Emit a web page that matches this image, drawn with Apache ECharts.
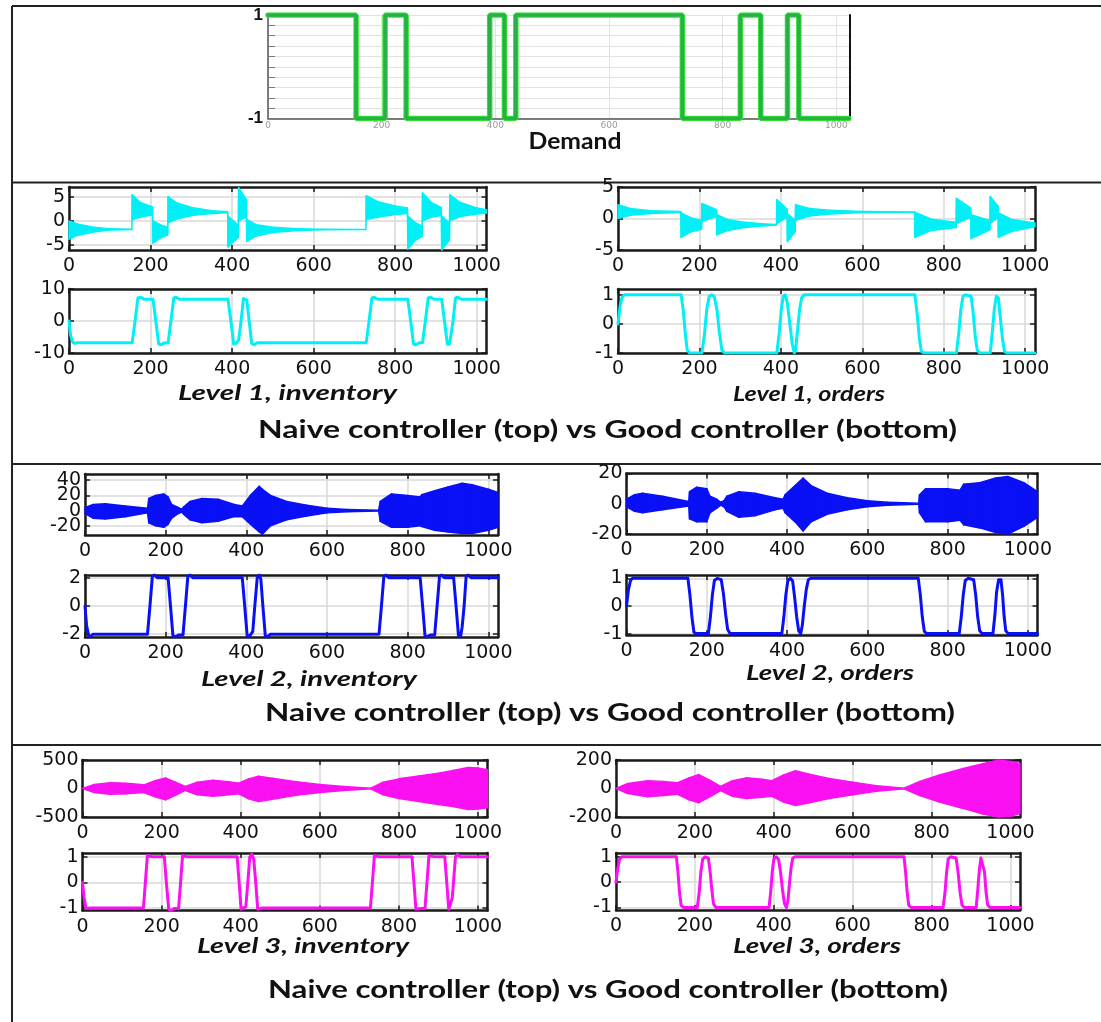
<!DOCTYPE html>
<html><head><meta charset="utf-8">
<script src="https://cdn.jsdelivr.net/npm/echarts@6/dist/echarts.min.js"></script>
<style>html,body{margin:0;padding:0;background:#fff}#c{width:1101px;height:1022px}</style>
</head><body><div id="c"></div>
<script>
// ---------------- DATA ----------------
const X_MAX = 1024;
const xTickValues = [0, 200, 400, 600, 800, 1000];

// Demand (step: value holds until next switch)
const demandSteps = [[0,1],[155,-1],[206,1],[243,-1],[390,1],[416,-1],[436,1],[729,-1],[831,1],[867,-1],[914,1],[934,-1],[1022,-1]];

// Level 1 inventory, naive (oscillation envelope)
const l1InvNaiveX  = [0,20,60,100,154,155,175,205,206,225,242,243,265,300,350,389,390,415,416,435,436,460,500,560,620,728,729,760,800,830,831,850,866,867,890,913,914,933,934,960,1000,1024];
const l1InvNaiveHi = [0,-0.6,-1.3,-1.6,-1.7,5.4,3.8,2.9,0.0,-0.8,-1.3,5.0,3.7,2.8,2.1,1.9,1.0,-0.9,6.9,4.4,0.3,-0.8,-1.3,-1.6,-1.7,-1.75,5.2,3.9,3.1,2.7,1.0,-0.4,-1.0,5.8,3.7,2.8,1.0,-0.4,5.4,3.8,2.7,2.3];
const l1InvNaiveLo = [-3.8,-3.0,-2.3,-1.9,-1.8,0.2,0.8,1.2,-4.6,-3.5,-2.9,-0.4,0.4,1.1,1.5,1.7,-5.4,-3.4,0.0,0.8,-4.2,-3.1,-2.4,-2.0,-1.85,-1.8,0.3,0.8,1.3,1.5,-5.8,-4.0,-3.2,0.0,0.8,1.1,-6.3,-4.0,0.0,0.9,1.4,1.6];

// Level 1 orders, naive
const l1OrdNaiveX  = [0,30,80,154,155,180,205,206,242,243,270,310,360,389,390,415,416,435,436,470,520,600,728,729,770,830,831,866,867,913,914,933,934,970,1024];
const l1OrdNaiveHi = [2.2,1.6,1.25,1.1,0.9,0.1,-0.3,2.4,1.4,0.6,-0.2,-0.6,-0.85,-0.95,3.0,1.5,0.8,-0.3,2.2,1.6,1.3,1.1,1.05,1.0,-0.1,-0.6,3.2,1.7,0.6,-0.3,3.5,2.0,0.9,-0.2,-0.7];
const l1OrdNaiveLo = [0.0,0.5,0.8,0.95,-3.0,-2.1,-1.7,-0.5,0.3,-2.6,-1.9,-1.45,-1.15,-1.05,-0.8,0.2,-3.7,-2.1,-0.3,0.4,0.7,0.95,1.0,-3.0,-1.9,-1.45,-0.8,0.2,-3.2,-1.8,-0.8,0.1,-3.0,-2.0,-1.3];

// Level 2 inventory, naive
const l2InvNaiveX  = [0,20,50,100,155,158,175,195,206,215,228,240,245,260,290,330,370,390,410,432,440,460,500,550,600,650,700,728,732,760,800,831,835,867,900,935,960,1000,1024];
const l2InvNaiveHi = [4,8,9,6,3,16,20,22,18,8,5,2,5,12,16,15,8,6,20,32,28,20,12,7,3,1.5,0.8,0.5,12,22,20,18,21,26,31,36,34,28,24];
const l2InvNaiveLo = [-4,-10,-11,-8,-3,-16,-20,-22,-18,-10,-5,-2,-5,-12,-16,-14,-8,-8,-18,-28,-31,-20,-12,-7,-3,-1.5,-0.8,-0.5,-14,-22,-22,-20,-21,-26,-28,-30,-30,-26,-22];

// Level 2 orders, naive
const l2OrdNaiveX  = [0,20,40,90,155,157,175,200,208,225,235,243,250,280,320,370,390,395,420,440,460,500,550,600,650,728,730,745,800,831,840,880,920,950,990,1024];
const l2OrdNaiveHi = [3,6,7,5,1.5,8,11,10,5,3,1,2,5,8,7,4,3,6,12,17,12,7,4,2,1,0.4,6,10,10,9,13,14,17,18,14,8];
const l2OrdNaiveLo = [-2,-5,-6,-4,-1.5,-10,-12,-12,-6,-3,-1,-2,-5,-9,-8,-4,-3,-6,-12,-18,-12,-7,-4,-2,-1,-0.4,-6,-12,-12,-11,-14,-16,-19,-20,-15,-9];

// Level 3 inventory, naive
const l3InvNaiveX  = [0,30,70,110,155,185,210,235,260,290,330,370,395,420,445,480,540,600,660,729,760,800,850,900,940,975,1000,1024];
const l3InvNaiveHi = [0,70,100,95,65,140,185,110,35,110,145,120,95,170,215,180,120,70,35,5,110,170,220,270,320,370,360,330];
const l3InvNaiveLo = [0,-70,-100,-95,-70,-150,-200,-120,-35,-110,-135,-110,-95,-180,-230,-190,-120,-70,-35,-5,-110,-175,-230,-280,-320,-370,-360,-340];

// Level 3 orders, naive
const l3OrdNaiveX  = [0,30,80,120,155,185,210,240,265,295,330,370,395,425,455,490,540,600,660,730,770,820,880,930,970,1000,1024];
const l3OrdNaiveHi = [0,35,55,50,40,75,98,55,15,55,75,65,55,95,125,100,70,45,20,3,50,95,140,175,200,190,176];
const l3OrdNaiveLo = [0,-35,-58,-50,-40,-80,-100,-55,-15,-55,-70,-62,-55,-95,-120,-100,-70,-45,-20,-3,-50,-95,-140,-180,-200,-195,-176];

// Good controller traces [x, y]
const l1InvGood = [[0,0],[4,-4.5],[9,-6.6],[14,-7.0],[20,-6.8],[155,-6.8],[162,0],[169,7.2],[176,7.4],[184,6.8],[206,6.8],[213,0],[220,-7.2],[226,-7.4],[233,-6.9],[243,-6.9],[250,0],[257,7.2],[263,7.4],[271,6.8],[390,6.8],[397,0],[404,-7.2],[410,-7.0],[416,-6.0],[422,0],[428,7.0],[432,7.6],[436,6.5],[442,0],[448,-7.0],[454,-7.4],[462,-6.8],[729,-6.8],[736,0],[743,7.2],[749,7.4],[757,6.8],[831,6.8],[838,0],[845,-7.2],[851,-7.4],[859,-6.8],[867,-6.8],[874,0],[881,7.2],[887,7.4],[895,6.8],[914,6.8],[921,0],[928,-7.2],[933,-7.3],[936,-5],[942,0],[948,7.2],[954,7.4],[962,6.8],[1024,6.8]];
const l1OrdGood = [[0,0],[5,0.6],[10,0.92],[16,1],[155,1],[160,0.5],[165,-0.3],[170,-0.9],[176,-1],[206,-1],[212,-0.4],[218,0.5],[224,0.95],[230,1.0],[236,0.95],[243,0.5],[249,-0.3],[255,-0.9],[262,-1],[390,-1],[396,-0.3],[401,0.5],[406,0.95],[411,1],[416,0.7],[422,0],[428,-0.7],[433,-1],[436,-0.9],[441,-0.2],[446,0.5],[451,0.9],[457,1],[729,1],[735,0.3],[740,-0.5],[745,-0.95],[751,-1],[831,-1],[837,-0.3],[842,0.5],[847,0.95],[853,1],[867,0.95],[872,0.4],[877,-0.4],[882,-0.9],[888,-1],[914,-1],[919,-0.3],[924,0.5],[929,0.95],[934,0.9],[939,0.2],[944,-0.5],[949,-0.95],[955,-1],[1024,-1]];
const l2InvGood = [[0,0],[4,-1.4],[9,-2.1],[14,-2.15],[20,-2.0],[155,-2.0],[161,0],[167,2.1],[172,2.2],[180,2.0],[206,2.0],[212,0],[218,-2.1],[224,-2.2],[232,-2.05],[243,-2.05],[249,0],[255,2.1],[260,2.2],[268,2.0],[390,2.0],[396,0],[402,-2.1],[408,-2.15],[416,-1.8],[421,0],[427,2.0],[432,2.2],[436,1.9],[441,0],[447,-2.1],[452,-2.2],[460,-2.0],[729,-2.0],[735,0],[741,2.1],[746,2.2],[754,2.0],[831,2.0],[837,0],[843,-2.1],[848,-2.2],[856,-2.05],[867,-2.05],[873,0],[879,2.1],[884,2.2],[892,2.0],[914,2.0],[920,0],[926,-2.1],[931,-2.2],[935,-1.5],[940,0],[945,2.1],[950,2.2],[958,2.0],[1024,2.0]];
const l2OrdGood = [[0,0],[5,0.6],[10,0.92],[15,1],[153,1],[158,0.4],[163,-0.4],[168,-0.95],[174,-1],[204,-1],[209,-0.4],[214,0.4],[219,0.92],[226,1.0],[236,0.95],[241,0.5],[247,-0.3],[252,-0.85],[258,-1],[387,-1],[392,-0.4],[397,0.4],[402,0.92],[408,1],[414,0.9],[419,0.3],[424,-0.4],[429,-0.9],[434,-1],[438,-0.7],[443,0],[448,0.6],[453,0.95],[459,1],[727,1],[732,0.4],[737,-0.4],[742,-0.92],[748,-1],[829,-1],[834,-0.4],[839,0.4],[844,0.92],[851,1],[865,0.95],[870,0.4],[875,-0.4],[880,-0.9],[886,-1],[913,-1],[918,-0.3],[922,0.5],[927,0.95],[933,0.95],[937,0.4],[941,-0.4],[945,-0.9],[951,-1],[1024,-1]];
const l3InvGood = [[0,0],[4,-0.6],[9,-1.02],[14,-1.08],[20,-1],[154,-1],[159,0],[164,1.05],[169,1.1],[177,1],[207,1],[212,0],[218,-1.05],[224,-1.1],[232,-1.02],[243,-1.02],[248,0],[253,1.05],[258,1.1],[266,1],[391,1],[396,0],[401,-1.05],[406,-1.1],[413,-0.95],[418,0],[423,1.0],[428,1.1],[433,0.9],[438,0],[443,-1.05],[448,-1.1],[456,-1],[728,-1],[733,0],[738,1.05],[743,1.1],[751,1],[833,1],[838,0],[843,-1.05],[848,-1.1],[856,-1.02],[866,-1.02],[871,0],[876,1.05],[881,1.1],[889,1],[916,1],[921,0],[926,-1.05],[931,-1.1],[935,-0.6],[939,0.2],[943,1.0],[948,1.1],[956,1],[1024,1]];
const l3OrdGood = [[0,0],[4,0.5],[9,0.9],[15,1],[153,1],[157,0.4],[161,-0.4],[165,-0.92],[171,-1],[206,-1],[211,-0.4],[215,0.4],[220,0.92],[226,1],[234,0.95],[238,0.5],[243,-0.3],[247,-0.85],[253,-1],[388,-1],[392,-0.4],[396,0.4],[400,0.92],[406,1],[412,0.9],[417,0.4],[422,-0.3],[427,-0.85],[432,-1],[436,-0.7],[440,0],[444,0.6],[448,0.95],[454,1],[730,1],[734,0.4],[738,-0.4],[742,-0.92],[748,-1],[829,-1],[834,-0.4],[838,0.4],[842,0.92],[848,1],[862,0.95],[867,0.4],[872,-0.4],[877,-0.9],[883,-1],[913,-1],[917,-0.3],[921,0.5],[925,0.95],[930,0.95],[934,0.4],[938,-0.4],[942,-0.9],[948,-1],[1024,-1]];

// ---------------- BUILD ----------------
const CYAN = '#00f0f6', BLUE = '#0a10f5', MAG = '#fa10f0';
const grids = [], xAxes = [], yAxes = [], series = [];
const plainNum = v => String(v);

function addDemandPanel(rect) {
  const gi = grids.length;
  grids.push({left: rect[0], top: rect[1], width: rect[2], height: rect[3], outerBoundsMode: 'none', show: false});
  xAxes.push({type: 'value', gridIndex: gi, position: 'bottom', min: 0, max: X_MAX,
    axisLine: {show: true, onZero: false, lineStyle: {color: '#555', width: 1.5}},
    axisTick: {show: false, customValues: xTickValues},
    axisLabel: {show: true, hideOverlap: false, showMinLabel: true, showMaxLabel: true, customValues: xTickValues, formatter: plainNum, fontSize: 9, fontFamily: 'DejaVu Sans', color: '#9a9a9a', margin: 3},
    splitLine: {show: true, lineStyle: {color: '#e2e2e2', width: 1}}});
  yAxes.push({type: 'value', gridIndex: gi, position: 'left', min: -1, max: 1, interval: 0.2,
    axisLine: {show: true, onZero: false, lineStyle: {color: '#555', width: 1.5}},
    axisTick: {show: true, inside: true, length: 7, lineStyle: {color: '#777', width: 1}},
    axisLabel: {show: true, hideOverlap: false, showMinLabel: true, showMaxLabel: true, customValues: [-1, 1], formatter: plainNum, fontSize: 17, fontWeight: 'bold', fontFamily: 'Liberation Sans', color: '#111', margin: 5},
    splitLine: {show: true, lineStyle: {color: '#e2e2e2', width: 1}}});
  yAxes.push({type: 'value', gridIndex: gi, position: 'right', min: -1, max: 1,
    axisLine: {show: true, onZero: false, lineStyle: {color: '#111', width: 2}},
    axisTick: {show: false}, axisLabel: {show: false}, splitLine: {show: false}});
  return {x: xAxes.length - 1, y: yAxes.length - 2};
}

// yLabelSets: label values split over stacked label-only axes so close labels never collide
function addPanel(rect, yMin, yMax, yTicks, yLabelSets) {
  const gi = grids.length;
  grids.push({left: rect[0], top: rect[1], width: rect[2], height: rect[3], outerBoundsMode: 'none', show: false});
  const lineStyle = {color: '#1a1a1a', width: 2.5};
  const tickStyle = {color: '#1a1a1a', width: 1.5};
  const font = {fontFamily: 'DejaVu Sans', fontSize: 19, color: '#111', formatter: plainNum,
    hideOverlap: false, showMinLabel: true, showMaxLabel: true};
  const grid = {show: true, lineStyle: {color: '#d9d9d9', width: 1.5}};
  const sets = yLabelSets || [yTicks];
  xAxes.push({type: 'value', gridIndex: gi, position: 'bottom', min: 0, max: X_MAX,
    axisLine: {show: true, onZero: false, lineStyle},
    axisTick: {show: true, inside: true, length: 5, lineStyle: tickStyle, customValues: xTickValues},
    axisLabel: Object.assign({show: true, margin: 7, customValues: xTickValues}, font),
    splitLine: grid});
  xAxes.push({type: 'value', gridIndex: gi, position: 'top', min: 0, max: X_MAX,
    axisLine: {show: true, onZero: false, lineStyle},
    axisTick: {show: true, inside: true, length: 5, lineStyle: tickStyle, customValues: xTickValues},
    axisLabel: {show: false}, splitLine: {show: false}});
  const mainY = yAxes.length;
  yAxes.push({type: 'value', gridIndex: gi, position: 'left', min: yMin, max: yMax,
    axisLine: {show: true, onZero: false, lineStyle},
    axisTick: {show: true, inside: true, length: 5, lineStyle: tickStyle, customValues: yTicks},
    axisLabel: Object.assign({show: true, margin: 4, customValues: sets[0]}, font),
    splitLine: grid});
  yAxes.push({type: 'value', gridIndex: gi, position: 'right', min: yMin, max: yMax,
    axisLine: {show: true, onZero: false, lineStyle},
    axisTick: {show: true, inside: true, length: 5, lineStyle: tickStyle, customValues: yTicks},
    axisLabel: {show: false}, splitLine: {show: false}});
  for (let k = 1; k < sets.length; k++) {
    yAxes.push({type: 'value', gridIndex: gi, position: 'left', offset: 0, min: yMin, max: yMax,
      axisLine: {show: false}, axisTick: {show: false, customValues: sets[k]},
      axisLabel: Object.assign({show: true, margin: 4, customValues: sets[k]}, font),
      splitLine: {show: false}});
  }
  return {x: xAxes.length - 2, y: mainY, yMin: yMin, yMax: yMax};
}

// Oscillation envelope: filled band between lo and hi, drawn segment by segment
function addBand(ax, xs, hi, lo, color) {
  const data = [];
  for (let i = 0; i < xs.length - 1; i++) data.push([xs[i], hi[i], lo[i], xs[i + 1], hi[i + 1], lo[i + 1]]);
  const c = v => Math.max(ax.yMin, Math.min(ax.yMax, v));
  series.push({type: 'custom', xAxisIndex: ax.x, yAxisIndex: ax.y, data: data, silent: true, z: 2,
    encode: {x: [0, 3], y: [1, 2, 4, 5]},
    renderItem: function (params, api) {
      const x0 = api.value(0), h0 = api.value(1), l0 = api.value(2);
      const x1 = api.value(3), h1 = api.value(4), l1 = api.value(5);
      const pts = [api.coord([x0, c(h0)]), api.coord([x1, c(h1)]), api.coord([x1, c(l1)]), api.coord([x0, c(l0)])];
      return {type: 'polygon', shape: {points: pts}, style: {fill: color, stroke: color, lineWidth: 1.4, lineJoin: 'round'}};
    }});
}
function addLine(ax, data, color) {
  series.push({type: 'line', xAxisIndex: ax.x, yAxisIndex: ax.y, data: data, symbol: 'none', silent: true,
    lineStyle: {color: color, width: 3, cap: 'round', join: 'round'}, z: 3});
}

// Demand
const dAx = addDemandPanel([268, 15, 582, 103.5]);
series.push({type: 'line', xAxisIndex: dAx.x, yAxisIndex: dAx.y, data: demandSteps, step: 'end', symbol: 'none', silent: true,
  lineStyle: {color: '#33e633', width: 5.5, cap: 'round'}, z: 3});
series.push({type: 'line', xAxisIndex: dAx.x, yAxisIndex: dAx.y, data: demandSteps, step: 'end', symbol: 'none', silent: true,
  lineStyle: {color: '#2aae4a', width: 3.5, cap: 'round'}, z: 4});

// Level 1
addBand(addPanel([69, 187, 417.5, 63], -6, 7, [-5, 0, 5]), l1InvNaiveX, l1InvNaiveHi, l1InvNaiveLo, CYAN);
addLine(addPanel([69, 289, 417.5, 64], -10, 10, [-10, 0, 10]), l1InvGood, CYAN);
addBand(addPanel([618, 187, 417, 63], -5, 5, [-5, 0, 5]), l1OrdNaiveX, l1OrdNaiveHi, l1OrdNaiveLo, CYAN);
addLine(addPanel([618, 289, 417, 64], -1, 1.2, [-1, 0, 1]), l1OrdGood, CYAN);
// Level 2
addBand(addPanel([85, 474, 413, 61], -32, 48, [-20, 0, 20, 40], [[-20, 20], [0, 40]]), l2InvNaiveX, l2InvNaiveHi, l2InvNaiveLo, BLUE);
addLine(addPanel([85, 575, 413, 62], -2.2, 2.2, [-2, 0, 2]), l2InvGood, BLUE);
addBand(addPanel([626.5, 473.5, 411, 60.5], -20, 20, [-20, 0, 20]), l2OrdNaiveX, l2OrdNaiveHi, l2OrdNaiveLo, BLUE);
addLine(addPanel([626.5, 575, 411, 60], -1.05, 1.12, [-1, 0, 1]), l2OrdGood, BLUE);
// Level 3
addBand(addPanel([82.5, 760, 405, 57], -500, 500, [-500, 0, 500]), l3InvNaiveX, l3InvNaiveHi, l3InvNaiveLo, MAG);
addLine(addPanel([82.5, 853, 405, 57.5], -1.1, 1.15, [-1, 0, 1]), l3InvGood, MAG);
addBand(addPanel([616, 760, 404, 57], -200, 200, [-200, 0, 200]), l3OrdNaiveX, l3OrdNaiveHi, l3OrdNaiveLo, MAG);
addLine(addPanel([616, 853, 404, 57], -1.1, 1.15, [-1, 0, 1]), l3OrdGood, MAG);

// ---------------- TEXT & FRAME ----------------
const measureCtx = document.createElement('canvas').getContext('2d');
function fitText(text, font, cx, cy, targetW) {
  measureCtx.font = font;
  const w = measureCtx.measureText(text).width || 1;
  return {type: 'text', x: cx, y: cy, scaleX: targetW / w, silent: true,
    style: {text: text, font: font, fill: '#111', align: 'center', verticalAlign: 'middle', textAlign: 'center', textVerticalAlign: 'middle'}};
}
function hLine(x1, y, x2) {
  return {type: 'line', silent: true, shape: {x1: x1, y1: y, x2: x2, y2: y}, style: {stroke: '#222', lineWidth: 2}};
}
const TITLE = 'bold 25px Lato', SUB = 'italic bold 21px Lato';
const graphic = [
  hLine(12, 6, 1101), hLine(12, 182.5, 1101), hLine(12, 464, 1101), hLine(12, 745, 1101),
  {type: 'line', silent: true, shape: {x1: 12, y1: 6, x2: 12, y2: 1022}, style: {stroke: '#222', lineWidth: 2}},
  fitText('Demand', 'bold 22px Lato', 575, 142, 93),
  fitText('Level 1, inventory', SUB, 287.5, 393, 219),
  fitText('Level 1, orders', SUB, 809, 394, 152),
  fitText('Naive controller (top) vs Good controller (bottom)', TITLE, 607.5, 430, 699),
  fitText('Level 2, inventory', SUB, 309, 679, 216),
  fitText('Level 2, orders', SUB, 830, 673, 168),
  fitText('Naive controller (top) vs Good controller (bottom)', TITLE, 610, 713, 690),
  fitText('Level 3, inventory', SUB, 303, 946, 212),
  fitText('Level 3, orders', SUB, 817, 946, 168),
  fitText('Naive controller (top) vs Good controller (bottom)', TITLE, 608, 990, 680)
];

const chart = echarts.init(document.getElementById('c'), null, {renderer: 'canvas'});
chart.setOption({
  backgroundColor: '#fff',
  animation: false,
  grid: grids, xAxis: xAxes, yAxis: yAxes, series: series, graphic: graphic
});
</script></body></html>
